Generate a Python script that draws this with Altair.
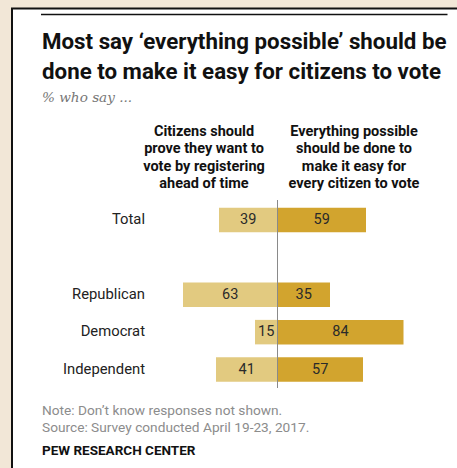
import altair as alt
import pandas as pd

# ---- data ----
categories = ["Total", "Republican", "Democrat", "Independent"]
register_first = [39, 63, 15, 41]          # Citizens should prove they want to vote by registering
everything_possible = [59, 35, 84, 57]     # Everything possible should be done
header_left = ["Citizens should", "prove they want to", "vote by registering", "ahead of time"]
header_right = ["Everything possible", "should be done to", "make it easy for", "every citizen to vote"]
title_lines = ["Most say \u2018everything possible\u2019 should be",
               "done to make it easy for citizens to vote"]
subtitle = "% who say ..."
note_lines = ["Note: Don\u2019t know responses not shown.",
              "Source: Survey conducted April 19-23, 2017."]
source_name = "PEW RESEARCH CENTER"

# display order, with an empty slot between Total and the party rows
row_order = ["Total", "", "Republican", "Democrat", "Independent"]

rows = []
for c, a, b in zip(categories, register_first, everything_possible):
    r = row_order.index(c)
    rows.append({"category": c, "row": r, "side": "register", "value": a, "x0": -a, "x1": 0, "mid": -a / 2})
    rows.append({"category": c, "row": r, "side": "everything", "value": b, "x0": 0, "x1": b, "mid": b / 2})
df = pd.DataFrame(rows)
cat_df = pd.DataFrame({"category": categories, "row": [row_order.index(c) for c in categories]})

W, H = 457, 468
LIGHT = "#E2CA80"
DARK = "#D2A42E"
FONT = "Roboto"

xs = alt.Scale(domain=[-100, 100], range=[127.5, 427.5], padding=0, nice=False)
ys = alt.Scale(domain=[0, 4], range=[220, 369.5], nice=False, zero=False, padding=0)

one = pd.DataFrame({"k": [0]})

frame = alt.Chart(one).mark_rect(fill="white", stroke="#111111", strokeWidth=2).encode(
    x=alt.value(12), x2=alt.value(W + 20), y=alt.value(8.5), y2=alt.value(H + 20))

top_rule = alt.Chart(one).mark_rule(color="#111111", strokeWidth=1.5).encode(
    x=alt.value(41), x2=alt.value(447.5), y=alt.value(14.5))

title = alt.Chart(pd.DataFrame({"t": ["\n".join(title_lines)]})).mark_text(
    align="left", baseline="alphabetic", font=FONT, fontSize=22.3, fontWeight="bold",
    color="#111111", lineBreak="\n", lineHeight=30).encode(
    x=alt.value(42), y=alt.value(49), text="t:N")

sub = alt.Chart(pd.DataFrame({"t": [subtitle]})).mark_text(
    align="left", baseline="alphabetic", font="DejaVu Serif", fontStyle="italic",
    fontSize=13.6, color="#777777").encode(x=alt.value(42), y=alt.value(102), text="t:N")

hl = alt.Chart(pd.DataFrame({"t": ["\n".join(header_left)]})).mark_text(
    align="center", baseline="alphabetic", font=FONT, fontSize=14.5, fontWeight="bold",
    color="#111111", lineBreak="\n", lineHeight=17.6).encode(
    x=alt.value(204), y=alt.value(135.5), text="t:N")

hr = alt.Chart(pd.DataFrame({"t": ["\n".join(header_right)]})).mark_text(
    align="center", baseline="alphabetic", font=FONT, fontSize=14.5, fontWeight="bold",
    color="#111111", lineBreak="\n", lineHeight=17.6).encode(
    x=alt.value(354), y=alt.value(135.5), text="t:N")

bars = alt.Chart(df).mark_bar(orient="horizontal", height=24.5).encode(
    x=alt.X("x0:Q", scale=xs, axis=None),
    x2="x1:Q",
    y=alt.Y("row:Q", scale=ys, axis=None),
    color=alt.Color("side:N", scale=alt.Scale(domain=["register", "everything"], range=[LIGHT, DARK]), legend=None),
)

vals = alt.Chart(df).mark_text(align="center", baseline="middle", font=FONT, fontSize=14.5,
                               color="#2a2a2a").encode(
    x=alt.X("mid:Q", scale=xs, axis=None),
    y=alt.Y("row:Q", scale=ys, axis=None),
    text="value:Q",
)

cats = alt.Chart(cat_df).mark_text(
    align="right", baseline="middle", font=FONT, fontSize=14.8, color="#222222").encode(
    x=alt.value(145),
    y=alt.Y("row:Q", scale=ys, axis=None),
    text="category:N",
)

zero = alt.Chart(pd.DataFrame({"z": [0]})).mark_rule(color="#8a8a8a", strokeWidth=1).encode(
    x=alt.X("z:Q", scale=xs, axis=None), y=alt.value(200), y2=alt.value(388))

notes = alt.Chart(pd.DataFrame({"t": ["\n".join(note_lines)]})).mark_text(
    align="left", baseline="alphabetic", font=FONT, fontSize=13.7, color="#8c8c8c",
    lineBreak="\n", lineHeight=17).encode(x=alt.value(42), y=alt.value(415), text="t:N")

pew = alt.Chart(pd.DataFrame({"t": [source_name]})).mark_text(
    align="left", baseline="alphabetic", font=FONT, fontSize=13.5, fontWeight="bold",
    color="#111111").encode(x=alt.value(42), y=alt.value(455), text="t:N")

chart = alt.layer(frame, top_rule, title, sub, hl, hr, bars, zero, vals, cats, notes, pew).properties(
    width=W, height=H, padding=0, autosize=alt.AutoSizeParams(type="none"),
    background="#F2E7D7",
).configure_view(strokeWidth=0)

chart.save("out.html", embed_options={"renderer": "svg", "actions": False})
